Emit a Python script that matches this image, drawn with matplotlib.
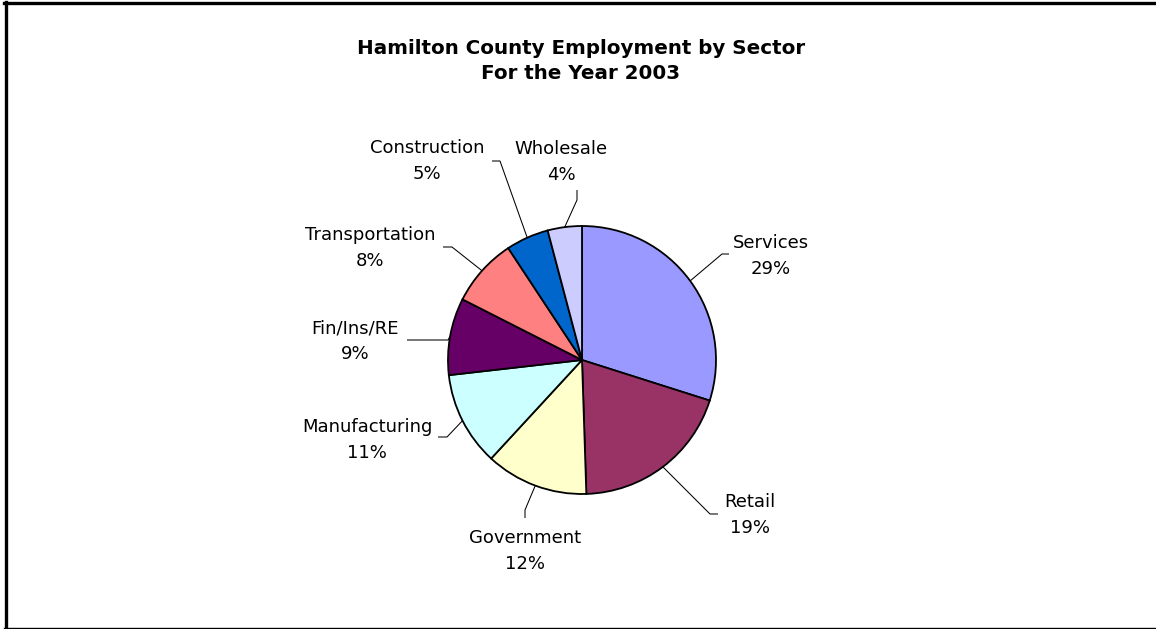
import matplotlib
matplotlib.use("Agg")
import matplotlib.pyplot as plt
from matplotlib.lines import Line2D
import numpy as np

# Employment share by sector, 2003 (percent)
sectors = ["Services", "Retail", "Government", "Manufacturing",
           "Fin/Ins/RE", "Transportation", "Construction", "Wholesale"]
shares = [29, 19, 12, 11, 9, 8, 5, 4]
colors = ["#9999FF", "#993366", "#FFFFCC", "#CCFFFF",
          "#660066", "#FF8080", "#0066CC", "#CCCCFF"]

W, H = 1156, 629

# label layout in pixel coords (top-down): text centre, elbow, line end
label_xy = [(771, 256), (750, 515), (525, 551), (367, 440),
            (355, 341), (370, 248), (427, 161), (561, 162)]
elbow_xy = [(722, 254), (710, 514), (525, 510), (447, 437),
            (448, 340), (452, 247), (500, 161), (577, 200)]
end_xy = [(729, 254), (718, 514), (525, 518), (438, 437),
          (407, 340), (443, 247), (492, 161), (577, 190)]

CX, CY, R = 582, 360, 134


def fy(y):
    return H - y


fig = plt.figure(figsize=(W / 100, H / 100), dpi=100)
ax = fig.add_axes([0, 0, 1, 1])

wedges, _ = ax.pie(shares, colors=colors, startangle=90, counterclock=False,
                   center=(CX, fy(CY)), radius=R,
                   wedgeprops=dict(edgecolor="black", linewidth=1.3))

for w, name, val, txy, exy, nxy in zip(wedges, sectors, shares,
                                       label_xy, elbow_xy, end_xy):
    mid = np.deg2rad((w.theta1 + w.theta2) / 2)
    px, py = CX + R * np.cos(mid), fy(CY) + R * np.sin(mid)
    ax.plot([px, exy[0], nxy[0]], [py, fy(exy[1]), fy(nxy[1])],
            color="black", lw=0.75, solid_capstyle="butt")
    ax.text(txy[0], fy(txy[1]), f"{name}\n{val}%", ha="center", va="center",
            fontsize=13, linespacing=1.55, color="black")

ax.text(581, fy(61), "Hamilton County Employment by Sector\nFor the Year 2003",
        ha="center", va="center", fontsize=14.3, fontweight="bold",
        linespacing=1.45)

ax.set_xlim(0, W)
ax.set_ylim(0, H)
ax.set_aspect("equal")
ax.axis("off")

# chart border: heavy top/left, thin bottom
ax.add_line(Line2D([4, W], [fy(3.3), fy(3.3)], color="black", lw=2.4))
ax.add_line(Line2D([5.7, 5.7], [fy(2), 0], color="black", lw=2.4))
ax.add_line(Line2D([4, W], [fy(628), fy(628)], color="black", lw=1.0))

fig.savefig("out.png", dpi=100)
